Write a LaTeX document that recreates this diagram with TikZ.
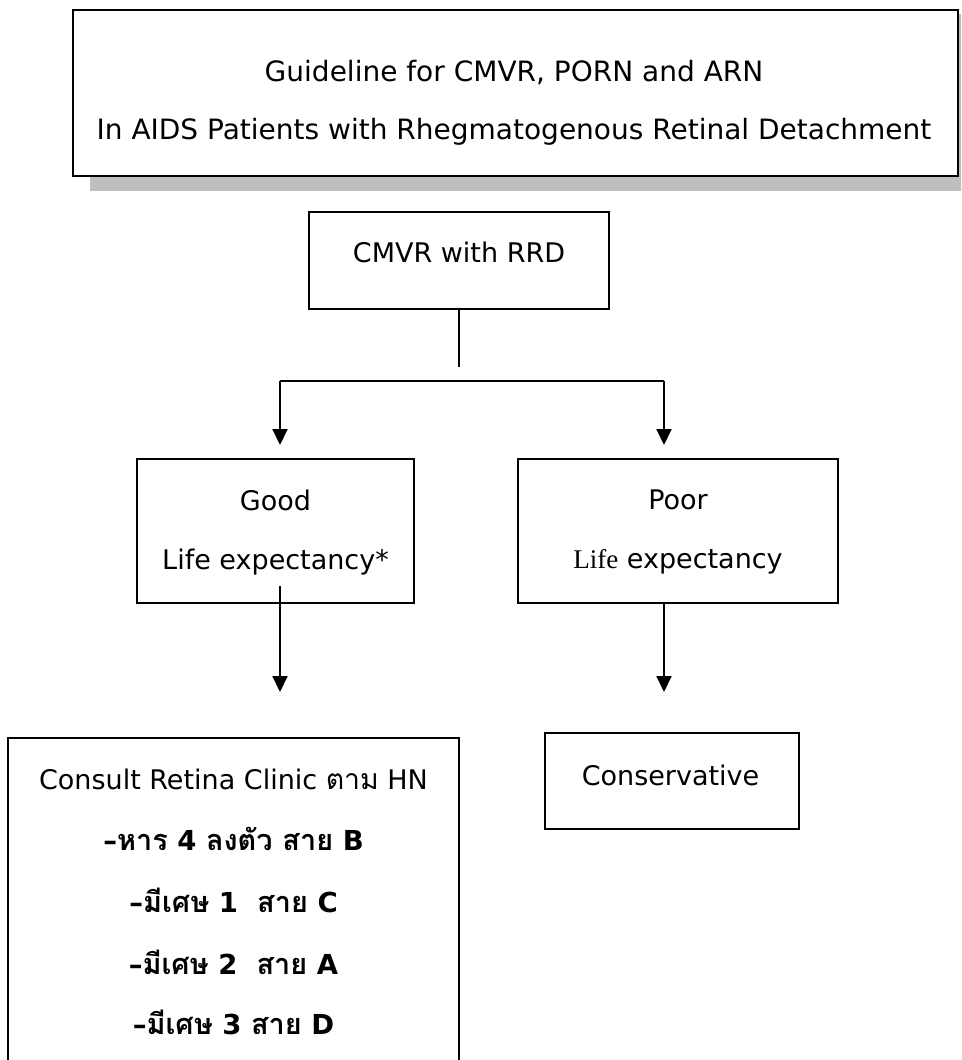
\documentclass[tikz,border=0pt]{standalone}
\usepackage{fontspec}
\setmainfont{DejaVu Sans}
\newfontfamily\thaifont[Script=Thai,Scale=1.05]{Loma}
\newfontfamily\timesf{Liberation Serif}
\usetikzlibrary{arrows.meta}
\tikzset{
  box/.style={draw, line width=2pt, inner sep=0pt},
  txt/.style={inner sep=0pt, font=\fontsize{28}{33}\selectfont},
  btxt/.style={inner sep=0pt, font=\fontsize{27}{32}\selectfont},
  thtxt/.style={inner sep=0pt, font=\fontsize{27.5}{32}\selectfont\bfseries},
  conn/.style={line width=2pt},
  arr/.style={line width=2pt, -{Triangle[length=16pt,width=15pt]}},
}
\begin{document}
\begin{tikzpicture}[x=1pt,y=-1pt]
\useasboundingbox (0,0) rectangle (961,1060);
\clip (0,0) rectangle (961,1060);
% title with shadow
\fill[black!25] (90,14) rectangle (975,191);
\node[box, fill=white, minimum width=885pt, minimum height=166pt] (title) at (515.5,93) {};
\node[txt] (t1) at (514,72) {Guideline for CMVR, PORN and ARN};
\node[txt] (t2) at (514,132) {In AIDS Patients with Rhegmatogenous Retinal Detachment};
% CMVR
\node[box, minimum width=300pt, minimum height=97pt] (cmvr) at (459,260.5) {};
\node[btxt] (cmvrt) at (459,252) {CMVR with RRD};
\coordinate (stem) at (459,367);
\draw[conn] (cmvr.south) -- (stem);
\coordinate (hl) at (280,381);
\coordinate (hr) at (664,381);
\draw[conn] (hl) -- (hr);
\coordinate (gl) at (280,445);
\coordinate (gr) at (664,445);
\draw[arr] (hl) -- (gl);
\draw[arr] (hr) -- (gr);
% Good / Poor
\node[box, minimum width=277pt, minimum height=144pt] (good) at (275.5,531) {};
\node[btxt] (good1) at (275.5,500) {Good};
\node[btxt] (good2) at (275.5,562) {Life expectancy*};
\node[box, minimum width=320pt, minimum height=144pt] (poor) at (678,531) {};
\node[btxt] (poor1) at (678,500) {Poor};
\node[btxt] (poor2) at (678,562) {{\timesf Life} expectancy};
% down arrows
\coordinate (gs) at (280,586);
\coordinate (ge) at (280,692);
\draw[arr] (gs) -- (ge);
\coordinate (pe) at (664,692);
\draw[arr] (poor.south -| pe) -- (pe);
% Consult
\node[box, minimum width=451pt, minimum height=400pt] (consult) at (233.5,938) {};
\node[btxt] (c1) at (233.5,779) {Consult Retina Clinic {\thaifont ตาม} HN};
\node[thtxt] (c2) at (233.5,839) {–{\thaifont หาร} 4 {\thaifont ลงตัว สาย} B};
\node[thtxt] (c3) at (233.5,900) {–{\thaifont มีเศษ} 1\ \ {\thaifont สาย} C};
\node[thtxt] (c4) at (233.5,962) {–{\thaifont มีเศษ} 2\ \ {\thaifont สาย} A};
\node[thtxt] (c5) at (233.5,1022) {–{\thaifont มีเศษ} 3 {\thaifont สาย} D};
% Conservative
\node[box, minimum width=254pt, minimum height=96pt] (cons) at (672,781) {};
\node[btxt] (ct) at (670.5,775) {Conservative};
\end{tikzpicture}
\end{document}
